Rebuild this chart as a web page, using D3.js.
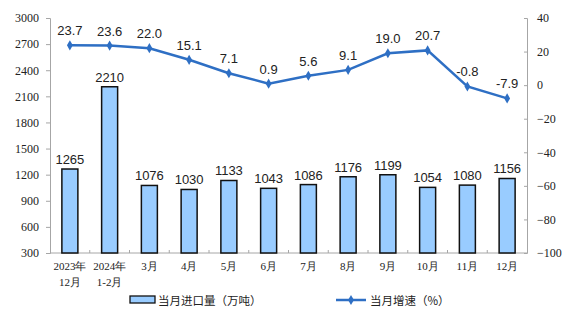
<!DOCTYPE html>
<html>
<head>
<meta charset="utf-8">
<script src="https://cdn.jsdelivr.net/npm/d3@7"></script>
<style>
  body { margin: 0; background: #fff; }
  svg text { fill: #222; }
</style>
</head>
<body>
<svg id="chart" width="569" height="317"></svg>
<script>
const categories = [['2023年', '12月'], ['2024年', '1-2月'], ['3月'], ['4月'], ['5月'], ['6月'], ['7月'], ['8月'], ['9月'], ['10月'], ['11月'], ['12月']];
const imports = [1265, 2210, 1076, 1030, 1133, 1043, 1086, 1176, 1199, 1054, 1080, 1156];
const growth = [23.7, 23.6, 22.0, 15.1, 7.1, 0.9, 5.6, 9.1, 19.0, 20.7, -0.8, -7.9];
const leftTicks = [300, 600, 900, 1200, 1500, 1800, 2100, 2400, 2700, 3000];
const rightTicks = [-100, -80, -60, -40, -20, 0, 20, 40];
const barName = '当月进口量（万吨）';
const lineName = '当月增速（%）';

const svg = d3.select('#chart');
const plotLeft = 50, plotRight = 527, plotTop = 18, plotBottom = 253;
const serif = '"Liberation Serif", "DejaVu Serif", serif';
const sans = '"Liberation Sans", Arial, sans-serif';
const cjk = '"Noto Sans CJK SC", sans-serif';
const axisColor = '#a6a6a6';
const lineColor = '#2e6fc4';

const x = d3.scaleBand().domain(d3.range(categories.length)).range([plotLeft, plotRight]);
const yL = d3.scaleLinear().domain([300, 3000]).range([plotBottom, plotTop]);
const yR = d3.scaleLinear().domain([-100, 40]).range([plotBottom, plotTop]);

// left axis
const gL = svg.append('g').attr('transform', `translate(${plotLeft},0)`)
  .call(d3.axisLeft(yL).tickValues(leftTicks).tickFormat(d3.format('d')).tickSize(4).tickPadding(7));
gL.select('.domain').attr('stroke', axisColor);
gL.selectAll('.tick line').attr('stroke', axisColor);
gL.selectAll('.tick text').attr('font-family', serif).attr('font-size', 12).style('fill', '#222');

// right axis
const gR = svg.append('g').attr('transform', `translate(${plotRight},0)`)
  .call(d3.axisRight(yR).tickValues(rightTicks).tickSize(-3).tickPadding(10));
gR.select('.domain').attr('stroke', axisColor);
gR.selectAll('.tick line').attr('stroke', axisColor);
gR.selectAll('.tick text').attr('font-family', serif).attr('font-size', 12).style('fill', '#222');

// bottom axis line
svg.append('line').attr('x1', plotLeft).attr('x2', plotRight).attr('y1', plotBottom).attr('y2', plotBottom)
  .attr('stroke', axisColor);
svg.append('g').selectAll('line').data(d3.range(1, categories.length)).join('line')
  .attr('x1', i => x(i)).attr('x2', i => x(i))
  .attr('y1', plotBottom).attr('y2', plotBottom - 3)
  .attr('stroke', axisColor);

// x labels
const xl = svg.append('g').selectAll('text').data(categories).join('text')
  .attr('text-anchor', 'middle')
  .attr('font-family', serif).attr('font-size', 11);
xl.each(function(d, i) {
  d3.select(this).selectAll('tspan').data(d).join('tspan')
    .attr('x', x(i) + x.bandwidth() / 2)
    .attr('y', (t, j) => 270 + j * 16)
    .text(t => t);
});

// bars
const bw = 16;
svg.append('g').selectAll('rect').data(imports).join('rect')
  .attr('x', (d, i) => x(i) + x.bandwidth() / 2 - bw / 2)
  .attr('y', d => yL(d))
  .attr('width', bw)
  .attr('height', d => plotBottom - yL(d))
  .attr('fill', '#99ccff')
  .attr('stroke', '#111')
  .attr('stroke-width', 1.5);

svg.append('g').selectAll('text').data(imports).join('text')
  .attr('x', (d, i) => x(i) + x.bandwidth() / 2)
  .attr('y', d => yL(d) - 5)
  .attr('text-anchor', 'middle')
  .attr('font-family', sans).attr('font-size', 13)
  .text(d => d);

// line
const line = d3.line().x((d, i) => x(i) + x.bandwidth() / 2).y(d => yR(d));
svg.append('path').datum(growth).attr('d', line)
  .attr('fill', 'none').attr('stroke', lineColor).attr('stroke-width', 2.5);
const diamond = d3.symbol().type(d3.symbolDiamond).size(30);
svg.append('g').selectAll('path').data(growth).join('path')
  .attr('d', diamond)
  .attr('transform', (d, i) => `translate(${x(i) + x.bandwidth() / 2},${yR(d)})`)
  .attr('fill', lineColor);
svg.append('g').selectAll('text').data(growth).join('text')
  .attr('x', (d, i) => x(i) + x.bandwidth() / 2)
  .attr('y', d => yR(d) - 10)
  .attr('text-anchor', 'middle')
  .attr('font-family', sans).attr('font-size', 13)
  .text(d => d.toFixed(1));

// legend
const lg = svg.append('g');
lg.append('rect').attr('x', 130).attr('y', 296).attr('width', 25).attr('height', 7)
  .attr('fill', '#99ccff').attr('stroke', '#111').attr('stroke-width', 1.3);
lg.append('text').attr('x', 158).attr('y', 305).attr('font-family', cjk).attr('font-size', 11.5)
  .text(barName);
lg.append('line').attr('x1', 336).attr('x2', 366).attr('y1', 300).attr('y2', 300)
  .attr('stroke', lineColor).attr('stroke-width', 2.5);
lg.append('path').attr('d', diamond).attr('transform', 'translate(351,300)').attr('fill', lineColor);
lg.append('text').attr('x', 370).attr('y', 305).attr('font-family', cjk).attr('font-size', 11.5)
  .text(lineName);
</script>
</body>
</html>
